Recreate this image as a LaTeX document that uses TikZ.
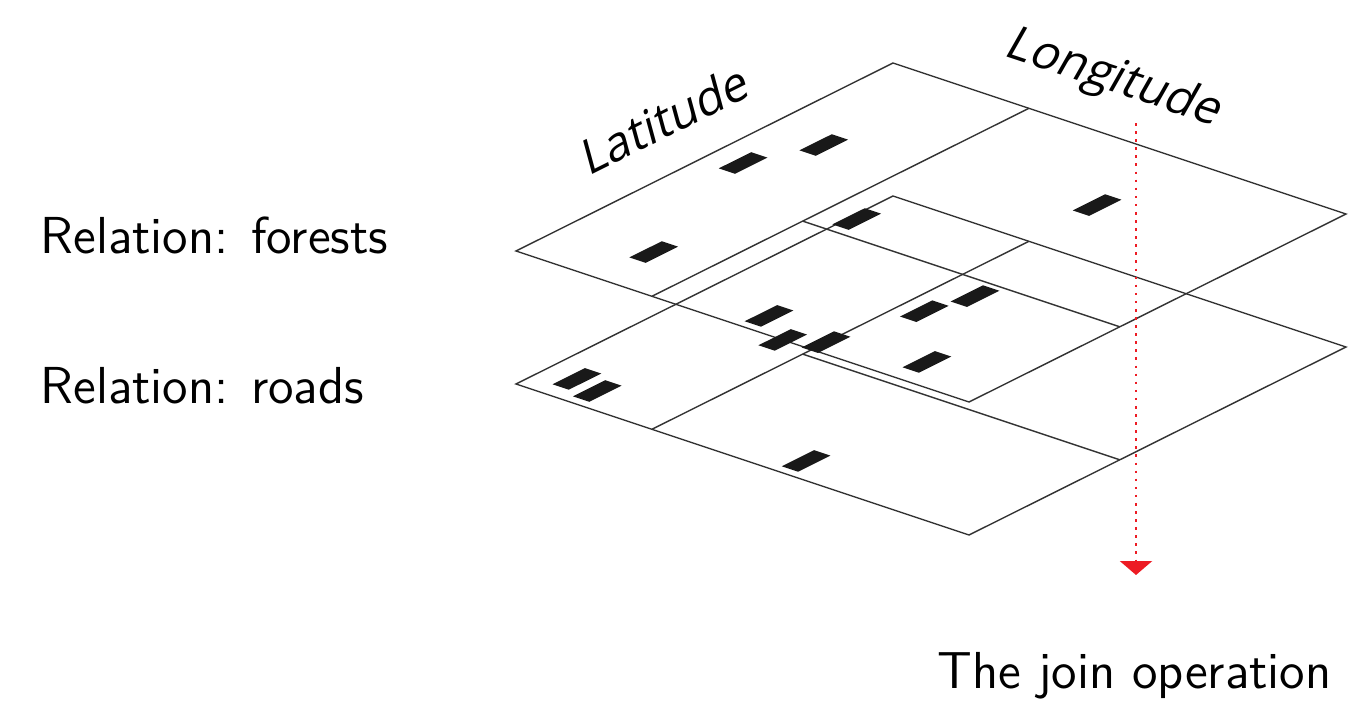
\documentclass[tikz,border=0pt]{standalone}
\usepackage{fontspec}
\newfontfamily\axisfont[FakeSlant=0.2]{Open Sans}
\usepackage{tikz}
\usetikzlibrary{arrows.meta}
\definecolor{joinred}{HTML}{ED1C24}
\tikzset{
  plane/.style={draw=black!80, line width=0.4pt},
  tuple/.style={fill=black!90},
  relname/.style={anchor=base west, inner sep=0pt, font=\fontsize{14.8}{18}\selectfont\sffamily},
  axislabel/.style={inner sep=0pt, font=\fontsize{13.5}{16}\selectfont\axisfont},
  joinarrow/.style={joinred, line width=0.75pt, dash pattern=on 0.75pt off 1.55pt,
    -{Triangle[width=3.2mm,length=1.4mm]}}
}
\begin{document}
\begin{tikzpicture}
\useasboundingbox (0,0) rectangle (13.48,-7.07);

\node[relname] (forests) at (0.40,-2.53) {Relation: forests};
\node[relname] (roads) at (0.40,-4.03) {Relation: roads};

% both relations: outline and partition
\foreach \yo in {-2.51,-3.84}
{
\begin{scope}[shift={(5.16,\yo)}, x={(3.77cm,1.88cm)}, y={(4.53cm,-1.51cm)}]
\draw[plane] (0,0) -- (1,0) -- (1,1) -- (0,1) -- cycle;
\draw[plane] (0,.3) -- (1,.3);
\draw[plane] (.4,.3) -- (.4,1);
\end{scope}
}

% forests
\begin{scope}[shift={(5.16,-2.51)}, x={(3.77cm,1.88cm)}, y={(4.53cm,-1.51cm)}]
\foreach \a/\b in {.522/.067,.665/.126,.143/.185,.464/.366,.764/.647,
                   .062/.507,.242/.70,.344/.727,.083/.838}
\fill[tuple] (\a-.043,\b-.018) -- ++(.086,0) -- ++(0,.036) -- ++(-.086,0) -- cycle;
\end{scope}

% roads
\begin{scope}[shift={(5.16,-3.84)}, x={(3.77cm,1.88cm)}, y={(4.53cm,-1.51cm)}]
\foreach \a/\b in {.424/.236,.463/.299,.081/.067,.064/.126,.063/.588}
\fill[tuple] (\a-.043,\b-.018) -- ++(.086,0) -- ++(0,.036) -- ++(-.086,0) -- cycle;
\end{scope}

\node[axislabel, rotate=26.5] (lat) at (6.62,-1.20) {Latitude};
\node[axislabel, rotate=-18.3] (long) at (11.12,-0.79) {Longitude};

\coordinate (jointop) at (11.36,-1.23);
\coordinate (joinend) at (11.36,-5.75);
\draw[joinarrow] (jointop) -- (joinend);
\node[relname] (join) at (9.37,-6.88) {The join operation};

\end{tikzpicture}
\end{document}
